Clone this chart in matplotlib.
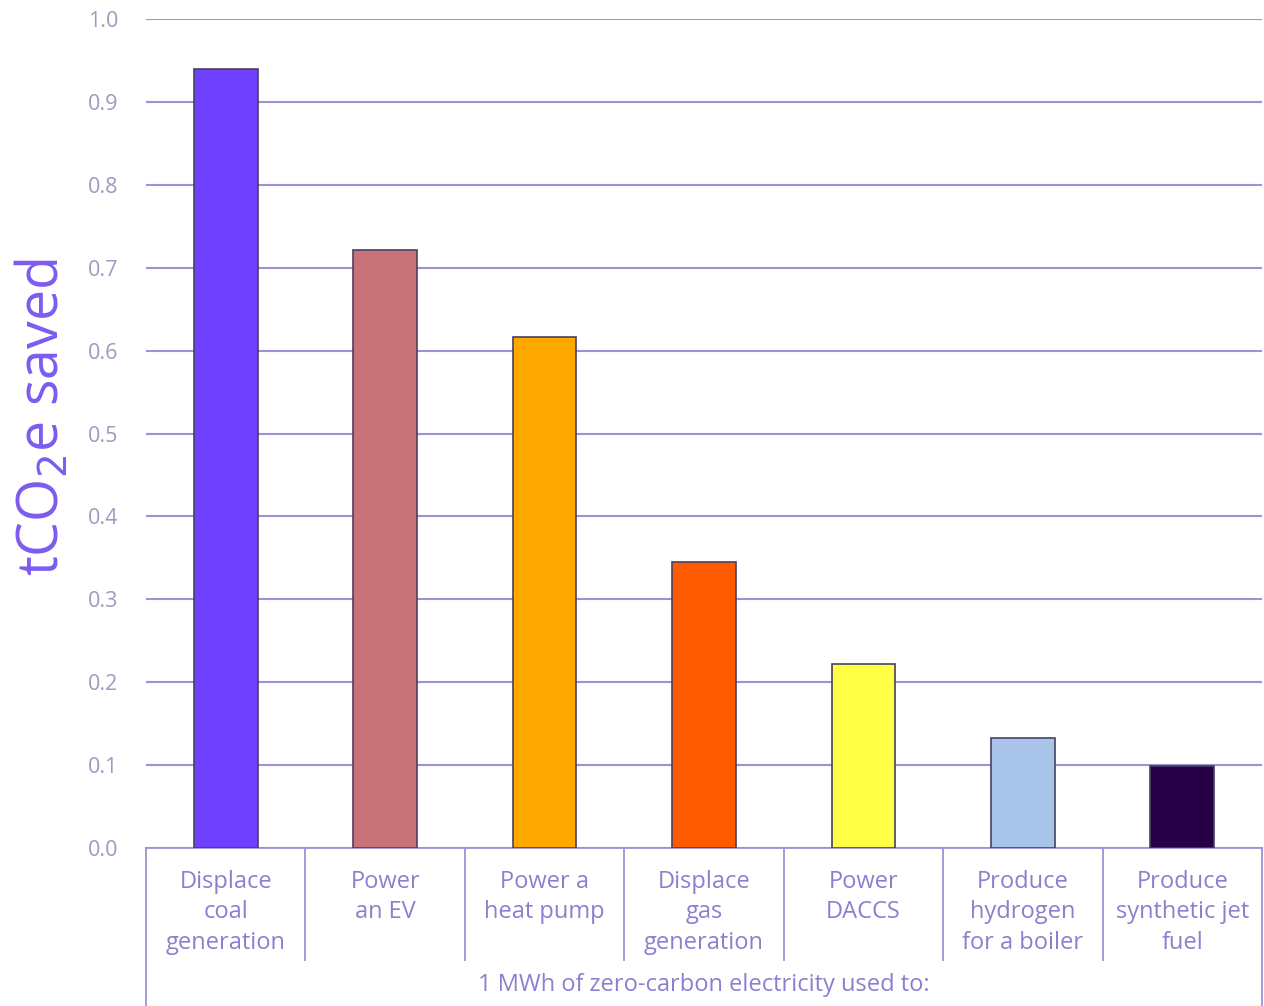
"""Bar chart: tCO2e saved per MWh of zero-carbon electricity, by use."""

import matplotlib

matplotlib.use("Agg")
import matplotlib.pyplot as plt

categories = [
    "Displace\ncoal\ngeneration",
    "Power\nan EV",
    "Power a\nheat pump",
    "Displace\ngas\ngeneration",
    "Power\nDACCS",
    "Produce\nhydrogen\nfor a boiler",
    "Produce\nsynthetic jet\nfuel",
]
savings = [0.94, 0.722, 0.616, 0.345, 0.222, 0.133, 0.099]
bar_colors = ["#7040FF", "#C8737A", "#FFA800", "#FF5A00", "#FFFF44", "#A8C4E8", "#280048"]
y_ticks = [0.0, 0.1, 0.2, 0.3, 0.4, 0.5, 0.6, 0.7, 0.8, 0.9, 1.0]
group_label = "1 MWh of zero-carbon electricity used to:"

grid_color = "#9C92D6"
text_color = "#8A80D0"
tick_color = "#9E9AC0"
font = ["Open Sans", "DejaVu Sans"]


def main() -> None:
    figure = plt.figure(figsize=(12.64, 10.06), dpi=100)
    axis = figure.add_axes([0.1155, 0.157, 0.883, 0.824])

    positions = list(range(len(categories)))
    axis.bar(
        positions,
        savings,
        width=0.4,
        color=bar_colors,
        edgecolor="#4A4060",
        linewidth=1.2,
        zorder=3,
    )

    axis.set_xlim(-0.5, len(categories) - 0.5)
    axis.set_ylim(0, 1.0)
    axis.set_yticks(y_ticks)
    axis.set_yticklabels([f"{v:.1f}" for v in y_ticks], family=font, fontsize=15.5, color=tick_color)
    axis.tick_params(axis="y", length=0, pad=20)
    axis.set_xticks([])
    axis.grid(axis="y", color=grid_color, linewidth=1.5, zorder=0)
    for spine in axis.spines.values():
        spine.set_visible(False)

    axis.set_ylabel("tCO$_2$e saved", family=font, fontsize=40, color="#7B5CF0")
    axis.yaxis.set_label_coords(-0.066, 0.52)

    # category table under the x axis
    transform = axis.get_xaxis_transform()
    line_style = dict(color=grid_color, linewidth=1.3, clip_on=False, transform=transform)
    axis.plot([-0.5, len(categories) - 0.5], [0, 0], **line_style)
    axis.plot([-0.5, -0.5], [0, -0.195], **line_style)
    axis.plot([len(categories) - 0.5] * 2, [0, -0.195], **line_style)
    for boundary in range(1, len(categories)):
        axis.plot([boundary - 0.5] * 2, [0, -0.135], **line_style)

    for position, label in zip(positions, categories):
        axis.text(
            position,
            -0.026,
            label,
            transform=transform,
            ha="center",
            va="top",
            family=font,
            fontsize=17,
            linespacing=1.36,
            color=text_color,
        )

    axis.text(
        (len(categories) - 1) / 2,
        -0.165,
        group_label,
        transform=transform,
        ha="center",
        va="center",
        family=font,
        fontsize=17,
        color=text_color,
    )

    figure.savefig("out.png", dpi=100, facecolor="white")


if __name__ == "__main__":
    main()
